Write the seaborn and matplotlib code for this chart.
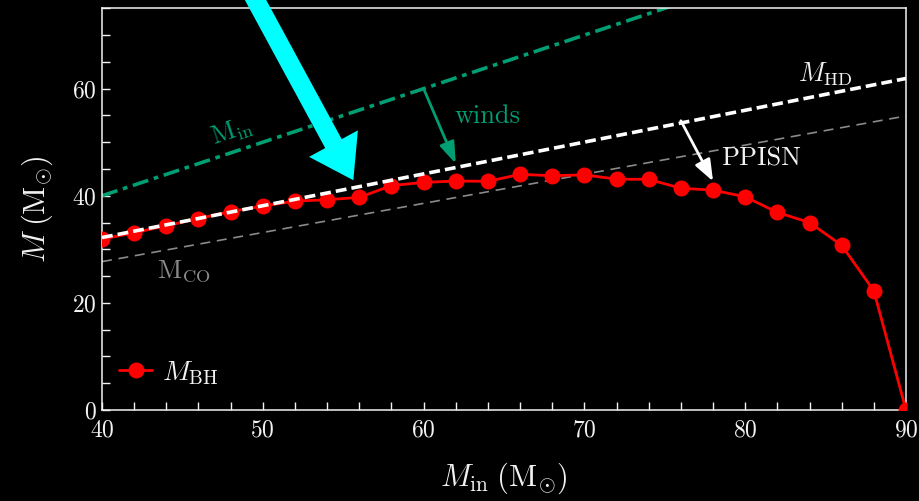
import matplotlib
matplotlib.use("Agg")
import matplotlib.pyplot as plt
import seaborn as sns
import pandas as pd
from matplotlib.ticker import MultipleLocator

# ---- data ----
m_in = [40, 42, 44, 46, 48, 50, 52, 54, 56, 58, 60, 62, 64, 66, 68, 70,
        72, 74, 76, 78, 80, 82, 84, 86, 88, 90]
m_bh = [31.9, 33.1, 34.4, 35.75, 37.06, 38.06, 39.0, 39.25, 39.7, 41.9,
        42.5, 42.75, 42.7, 44.0, 43.75, 43.9, 43.1, 43.06, 41.4, 41.06,
        39.8, 36.9, 35.0, 30.75, 22.25, 0.0]
line_x = [40, 90]
min_y = [40, 90]
mhd_y = [32.2, 61.9]
mco_y = [27.7, 54.9]
x_ticks = [40, 50, 60, 70, 80, 90]
y_ticks = [0, 20, 40, 60]

TEAL = "#009E73"
CYAN = "#00FFFF"
GRAY = "#8a8a8a"
FG = "#f2f2f2"

sns.set_theme(style="dark")
plt.rcParams.update({
    "font.family": ["cmr10", "DejaVu Serif"],
    "mathtext.fontset": "cm",
    "axes.unicode_minus": False,
    "axes.formatter.use_mathtext": True,
    "figure.facecolor": "black",
    "axes.facecolor": "black",
    "savefig.facecolor": "black",
})

fig = plt.figure(figsize=(9.19, 5.01), dpi=100)
ax = fig.add_axes([102 / 919, 1 - 410 / 501, (906 - 102) / 919, (410 - 8.3) / 501])

df_bh = pd.DataFrame({"m_in": m_in, "m_bh": m_bh})
df_lines = pd.DataFrame({"x": line_x, "min": min_y, "mhd": mhd_y, "mco": mco_y})

# reference lines
sns.lineplot(data=df_lines, x="x", y="mco", ax=ax, color=GRAY, lw=1.2,
             zorder=2, legend=False)
ax.lines[-1].set_dashes((6, 4))
sns.lineplot(data=df_lines, x="x", y="min", ax=ax, color=TEAL, lw=2.6,
             zorder=2, legend=False)
ax.lines[-1].set_dashes((4.5, 1.6, 1.3, 1.6))

# black hole mass curve
sns.lineplot(data=df_bh, x="m_in", y="m_bh", ax=ax, color="red", lw=2.0,
             marker="o", markersize=11.5, markeredgecolor="red",
             markeredgewidth=0, label=r"$M_{\rm BH}$", zorder=3)

sns.lineplot(data=df_lines, x="x", y="mhd", ax=ax, color="white", lw=2.6,
             zorder=4, legend=False)
ax.lines[-1].set_dashes((3.0, 1.4))

ax.set_xlim(40, 90)
ax.set_ylim(0, 75)
ax.set_xticks(x_ticks)
ax.set_yticks(y_ticks)
ax.xaxis.set_minor_locator(MultipleLocator(2))
ax.yaxis.set_minor_locator(MultipleLocator(5))
ax.tick_params(which="both", direction="in", length=5.5, width=1.0,
               color=FG, labelcolor=FG, labelsize=17,
               top=False, right=False, bottom=True, left=True)
ax.tick_params(axis="x", which="major", pad=7)
ax.tick_params(axis="y", which="major", pad=4)
for s in ax.spines.values():
    s.set_color(FG)
    s.set_linewidth(1.1)
ax.grid(False)

ax.set_xlabel(r"$M_{\rm in}\;(\mathrm{M}_{\odot})$", color=FG, fontsize=22)
ax.set_ylabel(r"$M\;(\mathrm{M}_{\odot})$", color=FG, fontsize=22)
ax.xaxis.set_label_coords(0.5, -0.125)
ax.yaxis.set_label_coords(-0.058, 0.5)

# annotations
ax.text(48.1, 51.9, r"$\mathrm{M_{in}}$", color=TEAL, fontsize=19,
        rotation=18.4, ha="center", va="center", rotation_mode="anchor")
ax.text(45.07, 26.0, r"$\mathrm{M_{CO}}$", color=GRAY, fontsize=19,
        ha="center", va="center")
ax.text(85.0, 62.6, r"$M_{\rm HD}$", color=FG, fontsize=19,
        ha="center", va="center")
ax.text(64.0, 54.8, "winds", color=TEAL, fontsize=19, ha="center", va="center")
ax.text(81.0, 46.9, "PPISN", color=FG, fontsize=19, ha="center", va="center")

ax.annotate("", xy=(62, 46), xytext=(60, 60),
            arrowprops=dict(arrowstyle="-|>,head_length=0.65,head_width=0.23",
                            color=TEAL, lw=2.0, shrinkA=0, shrinkB=0,
                            mutation_scale=20), zorder=5)
ax.annotate("", xy=(78, 42.7), xytext=(76, 54.0),
            arrowprops=dict(arrowstyle="-|>,head_length=0.65,head_width=0.25",
                            color="white", lw=2.0, shrinkA=0, shrinkB=0,
                            mutation_scale=20), zorder=5)
ax.annotate("", xy=(55.63, 42.9), xycoords="data",
            xytext=(236, 501 + 36), textcoords="figure pixels",
            arrowprops=dict(arrowstyle="simple,head_length=3.0,head_width=4.0,tail_width=1.35",
                            color=CYAN, shrinkA=0, shrinkB=0,
                            mutation_scale=10, lw=0),
            annotation_clip=False, zorder=6)

leg = ax.legend(loc="center left", bbox_to_anchor=(119 / 919, 1 - 373 / 501),
                bbox_transform=fig.transFigure, frameon=False, fontsize=20,
                handlelength=1.2, handletextpad=0.35, borderpad=0,
                borderaxespad=0, numpoints=1)
for t in leg.get_texts():
    t.set_color(FG)

fig.savefig("out.png", dpi=100, facecolor="black")
